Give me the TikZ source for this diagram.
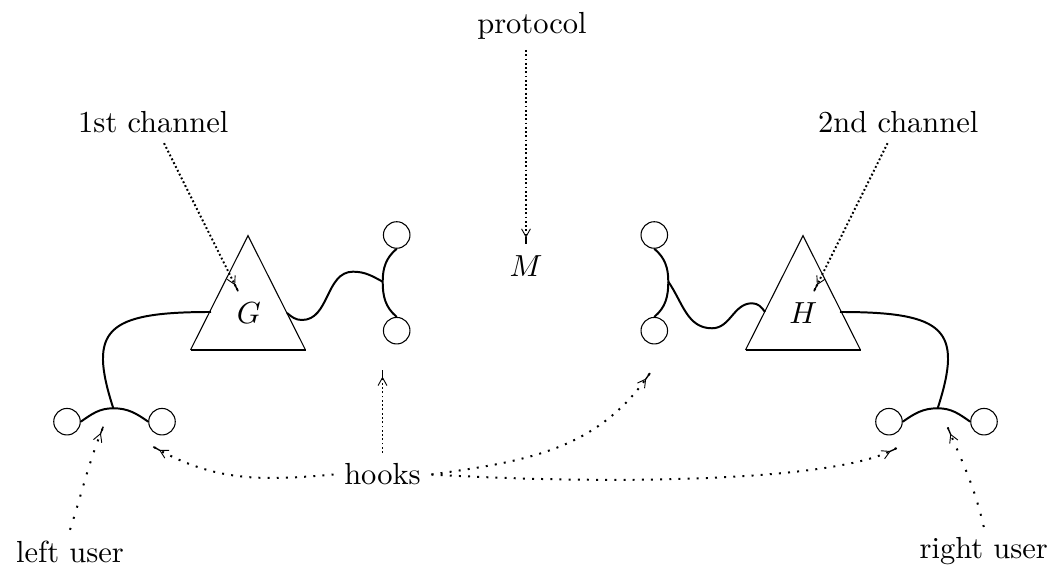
\documentclass[tikz,border=0pt]{standalone}
\usetikzlibrary{decorations.markings}
\tikzset{
  lbl/.style={inner sep=3.33pt, font=\fontsize{10}{12}\selectfont},
  hk/.style={circle, draw, line width=0.35pt, inner sep=0pt, minimum size=8.7pt},
  tri/.style={line width=0.35pt, line join=miter},
  base/.style={line width=0.7pt},
  wire/.style={line width=0.65pt},
  ytip/.style={postaction={decorate,decoration={markings,mark=at position -2.5pt with {\draw[solid,line width=0.45pt] (0,0) -- (2.5pt,0); \draw[solid,line width=0.3pt] (-2.6pt,1.45pt) .. controls (-1.2pt,0.45pt) .. (0,0) .. controls (-1.2pt,-0.45pt) .. (-2.6pt,-1.45pt);}}}},
  dense/.style={line width=0.65pt, dash pattern=on 0.6pt off 0.8pt, ytip},
  sparse/.style={line width=0.65pt, dash pattern=on 0.65pt off 2.35pt, ytip},
  sparser/.style={line width=0.65pt, dash pattern=on 0.65pt off 3.15pt, ytip},
}
\begin{document}
\begin{tikzpicture}[x=0.32787pt,y=0.32787pt]
\useasboundingbox (0,0) rectangle (1052,565);
% triangles
\coordinate (Ga) at (248,329.3); \coordinate (Gb1) at (190.5,215); \coordinate (Gb2) at (305.5,215);
\coordinate (Ha) at (803,329.3); \coordinate (Hb1) at (745.5,215); \coordinate (Hb2) at (860.5,215);
\draw[tri] (Gb1) -- (Ga) -- (Gb2);
\draw[base] (Gb1) -- (Gb2);
\draw[tri] (Hb1) -- (Ha) -- (Hb2);
\draw[base] (Hb1) -- (Hb2);
% labels
\node[lbl] (protocol) at (532,539.3) {protocol};
\node[lbl] (M) at (526,299.4) {$M$};
\node[lbl] (c1) at (153.3,443.3) {1st channel};
\node[lbl] (c2) at (898.3,443.3) {2nd channel};
\node[lbl] (G) at (248.8,252.4) {$G$};
\node[lbl] (H) at (803.3,252.4) {$H$};
\node[lbl] (hooks) at (382.5,90.5) {hooks};
\node[lbl] (lu) at (70,13.5) {left user};
\node[lbl] (ru) at (983.8,13.5) {right user};
% hook circles
\node[hk] (lu1) at (67,143.3) {};
\node[hk] (lu2) at (162,143.3) {};
\node[hk] (ru1) at (889,143.3) {};
\node[hk] (ru2) at (984,143.3) {};
\node[hk] (gl1) at (396.7,330) {};
\node[hk] (gl2) at (396.7,234.3) {};
\node[hk] (gr1) at (654.3,330) {};
\node[hk] (gr2) at (654.3,234.3) {};
% wire points
\coordinate (luj) at (113.3,156.7); \coordinate (ruj) at (937.7,156.7);
\coordinate (glj) at (382.7,283.3); \coordinate (grj) at (668.3,283.3);
\coordinate (Gl) at (211,253); \coordinate (Hr) at (840,253);
\coordinate (Gr) at (287,252); \coordinate (Hl) at (765,253);
\coordinate (gw1) at (302,245); \coordinate (gw2) at (353,293.3);
\coordinate (hw1) at (712,236.7); \coordinate (hw2) at (752,261.7);
% wires
\draw[wire] (lu1.east) to[out=35,in=180] (luj) to[out=0,in=145] (lu2.west);
\draw[wire] (luj) .. controls (88,235) and (105,253) .. (Gl);
\draw[wire] (ru1.east) to[out=35,in=180] (ruj) to[out=0,in=145] (ru2.west);
\draw[wire] (ruj) .. controls (963,235) and (946,253) .. (Hr);
\draw[wire] (gl1.south) to[out=-140,in=90] (glj) to[out=-90,in=140] (gl2.north);
\draw[wire] (gr1.south) to[out=-40,in=90] (grj) to[out=-90,in=40] (gr2.north);
\draw[wire] (Gr) to[out=-40,in=180] (gw1) to[out=0,in=180] (gw2) to[out=0,in=152] (glj);
\draw[wire] (grj) to[out=-55,in=180] (hw1) to[out=0,in=180] (hw2) to[out=0,in=125] (Hl);
% arrow targets
\coordinate (hk1) at (382.5,195);
\coordinate (hk2) at (153.3,118.3);
\coordinate (hk3) at (650,192);
\coordinate (hk4) at (896.7,117.1);
\coordinate (lut) at (103.3,138.3);
\coordinate (rut) at (947.7,137.5);
% dotted arrows
\draw[dense] (protocol.south -| M) -- (M);
\draw[dense] (c1) -- (G);
\draw[dense] (c2) -- (H);
\draw[dense] (hooks) -- (hk1);
\draw[sparse] (hooks.west) to[out=185,in=-30] (hk2);
\draw[sparse] (hooks.east) to[out=8,in=-124] (hk3);
\draw[sparse] (hooks.east) .. controls (610,80) and (840,83) .. (hk4);
\draw[sparser] (lu.north) to[out=72,in=-112] (lut);
\draw[sparser] (ru.north) to[out=103,in=-67] (rut);
\end{tikzpicture}
\end{document}
